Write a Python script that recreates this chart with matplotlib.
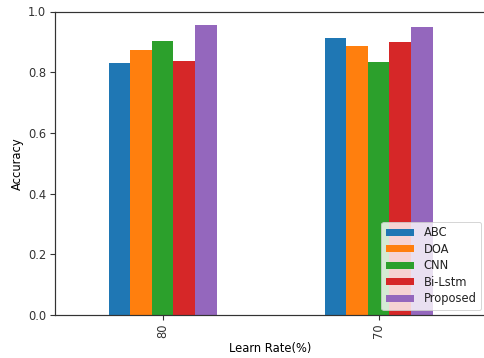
import matplotlib
matplotlib.use("Agg")
import matplotlib.pyplot as plt
import numpy as np

learn_rates = ["80", "70"]
models = ["ABC", "DOA", "CNN", "Bi-Lstm", "Proposed"]
acc_abc = [0.831, 0.912]
acc_doa = [0.872, 0.887]
acc_cnn = [0.903, 0.834]
acc_bilstm = [0.837, 0.900]
acc_proposed = [0.956, 0.949]
series = [acc_abc, acc_doa, acc_cnn, acc_bilstm, acc_proposed]
colors = ["#1f77b4", "#ff7f0e", "#2ca02c", "#d62728", "#9467bd"]

plt.rcParams.update({
    "font.size": 11.5,
    "xtick.major.size": 5,
    "ytick.major.size": 5,
    "xtick.major.width": 1.1,
    "ytick.major.width": 1.1,
    "axes.linewidth": 1.2,
    "axes.edgecolor": "#333333",
    "text.color": "#222222",
    "xtick.color": "#333333",
    "ytick.color": "#333333",
})

W, H, DPI = 484, 358, 72
fig = plt.figure(figsize=(W / DPI, H / DPI), dpi=DPI)
left, right = 54.7, 486.5
bottom, top = 315.0, 11.5
ax = fig.add_axes([left / W, (H - bottom) / H, (right - left) / W, (bottom - top) / H])

x = np.arange(len(learn_rates))
n = len(models)
w = 0.5 / n
for i, (name, vals, c) in enumerate(zip(models, series, colors)):
    offs = (i - (n - 1) / 2) * w
    ax.bar(x + offs, vals, width=w, color=c, label=name)

ax.set_xlim(-0.5, len(learn_rates) - 0.5)
ax.set_ylim(0, 1.0)
ax.set_xticks(x)
ax.set_xticklabels(learn_rates, rotation=90)
ax.set_yticks(np.arange(0, 1.01, 0.2))
ax.set_xlabel("Learn Rate(%)")
ax.set_ylabel("Accuracy")
ax.legend(loc="lower right", borderaxespad=0.45, labelspacing=0.3,
          handlelength=2.45, handletextpad=0.85, handleheight=0.55)

fig.savefig("out.png", dpi=DPI)
